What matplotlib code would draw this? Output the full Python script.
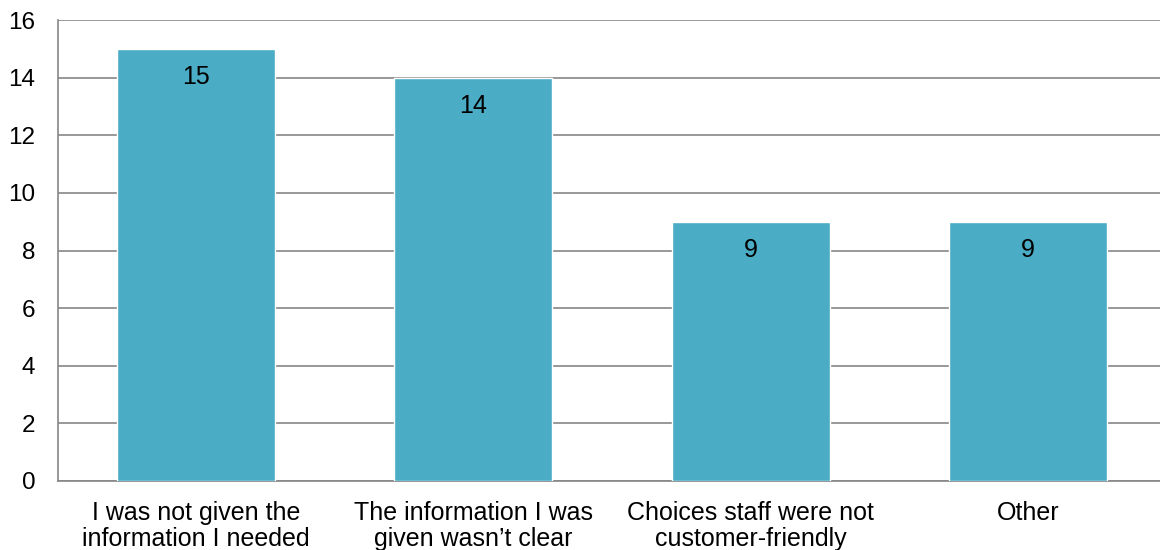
import matplotlib
matplotlib.use("Agg")
import matplotlib.pyplot as plt

# Reasons given for the response
categories = [
    "I was not given the\ninformation I needed",
    "The information I was\ngiven wasn\u2019t clear",
    "Choices staff were not\ncustomer-friendly",
    "Other",
]
counts = [15, 14, 9, 9]
y_ticks = [0, 2, 4, 6, 8, 10, 12, 14, 16]

plt.rcParams["font.family"] = ["Liberation Sans", "DejaVu Sans"]

fig = plt.figure(figsize=(11.6, 5.5), dpi=100)
ax = fig.add_axes([0.0496, 0.1255, 0.956, 0.838])

x = range(len(categories))
bars = ax.bar(x, counts, width=0.57, color="#4BACC6", edgecolor="white",
              linewidth=1, zorder=3)

for rect, val in zip(bars, counts):
    ax.annotate(str(val), (rect.get_x() + rect.get_width() / 2, rect.get_height()),
                xytext=(0, -20.5), textcoords="offset points",
                ha="center", va="center", fontsize=18, color="black", zorder=4)

ax.set_xlim(-0.5, len(categories) - 0.5)
ax.set_ylim(0, 16)
ax.set_yticks(y_ticks)
ax.set_xticks(list(x))
ax.set_xticklabels(categories, fontsize=18, linespacing=1.12)
ax.tick_params(axis="y", labelsize=17.5, length=0, pad=16)
ax.tick_params(axis="x", length=0, pad=14.5)

ax.grid(axis="y", color="#868686", linewidth=1.2, zorder=0)
for side in ("top", "right"):
    ax.spines[side].set_visible(False)
for side in ("left", "bottom"):
    ax.spines[side].set_color("#868686")
    ax.spines[side].set_linewidth(1.2)

fig.savefig("out.png", dpi=100)
